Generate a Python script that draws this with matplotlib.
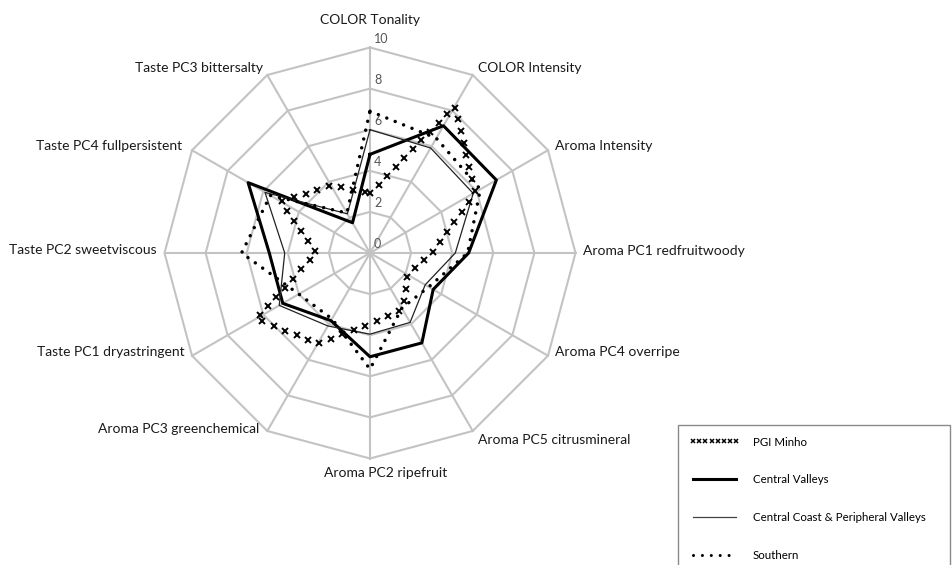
import numpy as np
import matplotlib
matplotlib.use('Agg')
import matplotlib.pyplot as plt
from matplotlib.lines import Line2D

plt.rcParams['font.family'] = ['Lato', 'DejaVu Sans']

categories = ['COLOR Tonality', 'COLOR Intensity', 'Aroma Intensity',
              'Aroma PC1 redfruitwoody', 'Aroma PC4 overripe',
              'Aroma PC5 citrusmineral', 'Aroma PC2 ripefruit',
              'Aroma PC3 greenchemical', 'Taste PC1 dryastringent',
              'Taste PC2 sweetviscous', 'Taste PC4 fullpersistent',
              'Taste PC3 bittersalty']

pgi_minho = [2.9, 8.25, 5.9, 3.05, 2.1, 3.2, 3.45, 5.1, 6.4, 2.6, 5.0, 3.8]
central_valleys = [4.8, 7.15, 7.1, 4.8, 3.55, 5.05, 5.05, 3.8, 4.9, 4.9, 6.85, 1.7]
central_coast = [6.0, 5.9, 5.8, 4.15, 3.1, 3.9, 3.95, 4.1, 5.1, 4.15, 5.9, 2.2]
southern = [6.9, 6.45, 6.2, 4.75, 3.3, 3.1, 5.65, 3.7, 4.0, 6.25, 5.6, 2.25]

r_ticks = [0, 2, 4, 6, 8, 10]

# label anchors in pixels (x, y from top) and alignment
label_pos = [(370, 20, 'center'), (478, 68, 'left'), (555, 146, 'left'),
             (583, 251, 'left'), (555, 352, 'left'), (478, 440, 'left'),
             (324, 473, 'left'), (259, 429, 'right'), (185, 352, 'right'),
             (157, 250, 'right'), (182, 146, 'right'), (263, 68, 'right')]

W, H = 952, 565
cx, cy = 370, 253
scale = 20.55  # pixels per unit

fig = plt.figure(figsize=(W / 100, H / 100), dpi=100)
ax = fig.add_axes([0, 0, 1, 1])
ax.set_xlim(-cx / scale, (W - cx) / scale)
ax.set_ylim(-(H - cy) / scale, cy / scale)
ax.set_aspect('equal')
ax.axis('off')

n = len(categories)
theta = np.pi / 2 - np.arange(n) * 2 * np.pi / n


def to_xy(vals):
    v = np.asarray(vals, dtype=float)
    x = v * np.cos(theta)
    y = v * np.sin(theta)
    return np.append(x, x[0]), np.append(y, y[0])


grid_col = '#c3c3c3'
for r in r_ticks[1:]:
    gx, gy = to_xy([r] * n)
    ax.plot(gx, gy, color=grid_col, lw=1.5, zorder=1)
for t in theta:
    ax.plot([0, 10 * np.cos(t)], [0, 10 * np.sin(t)], color=grid_col, lw=1.5, zorder=1)

for r in r_ticks:
    ax.text(0.2, r + 0.42, str(r), ha='left', va='center', fontsize=9, color='#555555', zorder=5)

for lab, (px, py, ha) in zip(categories, label_pos):
    ax.text((px - cx) / scale, (cy - py) / scale, lab, ha=ha, va='center',
            fontsize=10, color='#1a1a1a')

# Central Valleys
x, y = to_xy(central_valleys)
ax.plot(x, y, color='black', lw=2.2, zorder=3)

# Central Coast & Peripheral Valleys
x, y = to_xy(central_coast)
ax.plot(x, y, color='#222222', lw=0.9, zorder=3)

# Southern
x, y = to_xy(southern)
ax.plot(x, y, color='black', lw=2.5, linestyle=(0, (0.01, 2.6)),
        dash_capstyle='round', zorder=4)

# PGI Minho: x marks evenly spaced along the outline
x, y = to_xy(pgi_minho)
seg = np.hypot(np.diff(x), np.diff(y))
s = np.concatenate([[0], np.cumsum(seg)])
step = 12.3 / scale
pos = np.arange(0, s[-1], step)
ax.plot(np.interp(pos, s, x), np.interp(pos, s, y), linestyle='none',
        marker='x', ms=4.0, mew=1.4, color='black', zorder=4)

handles = [
    Line2D([], [], linestyle='none', marker='x', ms=3.2, mew=1.1, color='black'),
    Line2D([], [], color='black', lw=2.2),
    Line2D([], [], color='#444444', lw=0.9),
    Line2D([], [], color='black', lw=2.2, linestyle=(0, (0.01, 2.9)), dash_capstyle='round'),
]
labels = ['PGI Minho', 'Central Valleys', 'Central Coast & Peripheral Valleys', 'Southern']
leg = fig.legend(handles, labels, loc='upper left',
                 bbox_to_anchor=(678 / W, 1 - 425 / H, 272 / W, 0), mode='expand',
                 numpoints=8, fontsize=8.3, handlelength=4.35, handletextpad=1.13,
                 labelspacing=2.33, borderpad=1.0, borderaxespad=0, fancybox=False,
                 framealpha=1, edgecolor='#8a8a8a')
leg.get_frame().set_linewidth(1.0)

fig.savefig('out.png', dpi=100)
